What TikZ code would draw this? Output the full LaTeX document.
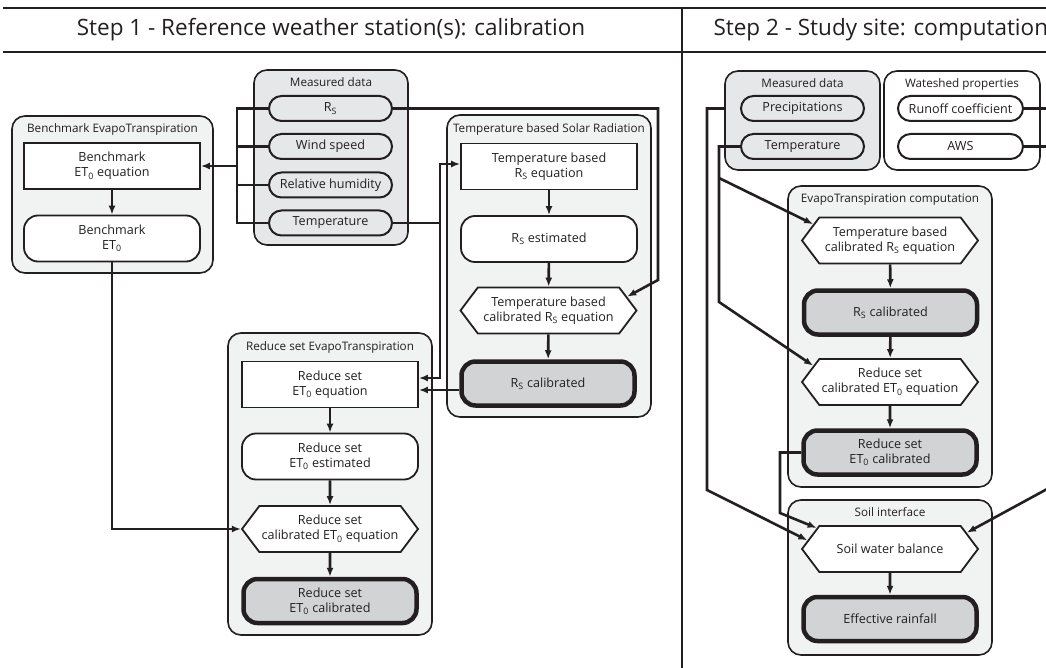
\documentclass[tikz,border=0pt]{standalone}
\usepackage{fontspec}
\setmainfont{Open Sans}
\usetikzlibrary{positioning, arrows.meta, shapes.symbols}

\definecolor{ink}{HTML}{231F20}
\definecolor{grpfill}{HTML}{F1F2F2}
\definecolor{mdfill}{HTML}{E6E7E8}
\definecolor{calfill}{HTML}{D1D3D4}
\newcommand{\boxfont}{\fontsize{12.6}{15}\selectfont}
\newcommand{\sub}[1]{\textsubscript{#1}}

\tikzset{
  grp/.style={draw=ink, line width=1.6pt, rounded corners=13pt, fill=grpfill},
  grptitle/.style={font=\fontsize{11.7}{13}\selectfont, text=ink, inner sep=0pt},
  eqbox/.style={draw=ink, line width=1.8pt, fill=white, text=ink, align=center,
    minimum width=176pt, minimum height=46pt, inner sep=1pt, font=\boxfont},
  resbox/.style={eqbox, rounded corners=14pt},
  calbox/.style={resbox, fill=calfill, line width=4.5pt, minimum width=173pt, minimum height=44pt},
  hexbox/.style={eqbox, shape=signal, signal to=west and east, signal pointer angle=106},
  pill/.style={draw=ink, line width=2pt, rounded corners=12.5pt, fill=mdfill, text=ink,
    minimum width=123pt, minimum height=25pt, inner sep=1pt, font=\boxfont},
  line/.style={draw=ink, line width=2.6pt},
  arrow/.style={line, -{Latex[length=9pt,width=7pt]}},
  steptitle/.style={font=\fontsize{22.5}{26}\selectfont, text=ink},
}

\begin{document}
\begin{tikzpicture}[x=1pt, y=-1pt]
\useasboundingbox (0,0) rectangle (1046,668);
\clip (0,0) rectangle (1046,668);

% header
\draw[ink, line width=1.2pt] (3,8) -- (1046,8);
\draw[ink, line width=2.4pt] (3,52) -- (1046,52);
\draw[ink, line width=1.2pt] (682,8) -- (682,668);
\node[steptitle] (step1) at (331,30) {Step 1 - Reference weather station(s): calibration};
\node[steptitle, anchor=west] (step2) at (710,30) {Step 2 - Study site: computation};

% step 1: groups
\node[grp, minimum width=201pt, minimum height=157pt] (bench) at (112.5,194.5) {};
\node[grptitle, below=8pt] at (bench.north) {Benchmark EvapoTranspiration};
\node[grp, fill=mdfill, minimum width=154pt, minimum height=175pt] (meas1) at (331,157.5) {};
\node[grptitle, below=8pt] at (meas1.north) {Measured data};
\node[grp, minimum width=204pt, minimum height=302pt] (tsr) at (549,266) {};
\node[grptitle, below=9pt] at (tsr.north) {Temperature based Solar Radiation};
\node[grp, minimum width=204pt, minimum height=302pt] (rse) at (330,484) {};
\node[grptitle, below=9pt] at (rse.north) {Reduce set EvapoTranspiration};

% step 1: boxes
\node[pill] (rs1) at (330.5,108.5) {R\sub{S}};
\node[pill] (wind) at (330.5,146.5) {Wind speed};
\node[pill] (rh) at (330.5,185) {Relative humidity};
\node[pill] (temp1) at (330.5,223) {Temperature};

\node[eqbox] (bencheq) at (112,166) {Benchmark\\ET\sub{0} equation};
\node[resbox] (benchet) at (112,238.5) {Benchmark\\ET\sub{0}};

\node[eqbox] (tsreq) at (549,166.5) {Temperature based\\R\sub{S} equation};
\node[resbox] (rsest) at (549,239) {R\sub{S} estimated};
\node[hexbox] (tsrhex) at (548.5,310.5) {Temperature based\\calibrated R\sub{S} equation};
\node[calbox] (rscal) at (548,383.5) {R\sub{S} calibrated};

\node[eqbox] (rseeq) at (330,384.5) {Reduce set\\ET\sub{0} equation};
\node[resbox] (rseest) at (330,456.5) {Reduce set\\ET\sub{0} estimated};
\node[hexbox] (rsehex) at (330,529) {Reduce set\\calibrated ET\sub{0} equation};
\node[calbox] (rsecal) at (330,601) {Reduce set\\ET\sub{0} calibrated};

% step 1: connectors
\coordinate (busx) at (237,0);
\coordinate (tbus) at (440,0);
\coordinate (rsturn) at (658,280);
\draw[line] (rs1.west) -- (rs1.west -| busx) -- (temp1.west -| busx) -- (temp1.west);
\draw[line] (wind.west) -- (wind.west -| busx);
\draw[line] (rh.west) -- (rh.west -| busx);
\draw[arrow] (bencheq.east -| busx) -- (bencheq.east);
\draw[arrow] (bencheq) -- (benchet);
\draw[arrow] (benchet.south) |- (rsehex.west);
\draw[arrow] (rs1.east) -| (rsturn) -- (tsrhex.10);
\draw[arrow] (temp1.east) -| ([yshift=2.5pt]tsreq.west -| tbus) -- ([yshift=2.5pt]tsreq.west);
\draw[arrow] (temp1.east -| tbus) |- ([yshift=6.5pt]rseeq.east);
\draw[arrow] ([yshift=-6.5pt]rscal.west) -- ([yshift=-6.5pt]rscal.west -| rseeq.east);
\draw[arrow] (tsreq) -- (rsest);
\draw[arrow] (rsest) -- (tsrhex);
\draw[arrow] (tsrhex) -- (rscal);
\draw[arrow] (rseeq) -- (rseest);
\draw[arrow] (rseest) -- (rsehex);
\draw[arrow] (rsehex) -- (rsecal);

% step 2: groups
\node[grp, fill=mdfill, minimum width=155pt, minimum height=99pt] (meas2) at (802.5,120.5) {};
\node[grptitle, below=8pt] at (meas2.north) {Measured data};
\node[grp, fill=white, minimum width=156pt, minimum height=99pt] (shed) at (962,120.5) {};
\node[grptitle, below=8pt] at (shed.north) {Wateshed properties};
\node[grp, minimum width=204pt, minimum height=301pt] (etc) at (890,336.5) {};
\node[grptitle, below=9pt] at (etc.north) {EvapoTranspiration computation};
\node[grp, minimum width=204pt, minimum height=155pt] (soil) at (890,577.5) {};
\node[grptitle, below=8pt] at (soil.north) {Soil interface};

% step 2: boxes
\node[pill] (precip) at (802.5,108.5) {Precipitations};
\node[pill] (temp2) at (802.5,146.5) {Temperature};
\node[pill, fill=white, minimum width=125pt] (runoff) at (960.5,108.5) {Runoff coefficient};
\node[pill, fill=white, minimum width=125pt] (aws) at (960.5,146.5) {AWS};

\node[hexbox] (hexa) at (890,240.5) {Temperature based\\calibrated R\sub{S} equation};
\node[calbox] (rscal2) at (890.5,312.5) {R\sub{S} calibrated};
\node[hexbox] (hexb) at (890,382) {Reduce set\\calibrated ET\sub{0} equation};
\node[calbox] (rsecal2) at (890,452.5) {Reduce set\\ET\sub{0} calibrated};
\node[hexbox] (swb) at (890,549) {Soil water balance};
\node[calbox] (effr) at (890,619) {Effective rainfall};

% step 2: connectors
\coordinate (pturn) at (707,490);
\coordinate (t2a) at (719,178);
\coordinate (t2b) at (719,302);
\coordinate (cturn) at (780,513);
\coordinate (wturn) at (1060,482);
\draw[arrow] (precip.west -| meas2.west) -| (pturn) -- (swb.174);
\draw[arrow] (temp2.west) -| (t2b) -- (hexb.168);
\draw[arrow] (t2a) -- (hexa.168);
\draw[arrow] (rsecal2.west) -| (cturn) -- (swb.164);
\draw[arrow] (runoff.east) -| (wturn) -- (swb.12);
\draw[line] (aws.east) -- (aws.east -| wturn);
\draw[arrow] (hexa) -- (rscal2);
\draw[arrow] (rscal2) -- (hexb);
\draw[arrow] (hexb) -- (rsecal2);
\draw[arrow] (swb) -- (effr);
\end{tikzpicture}
\end{document}
